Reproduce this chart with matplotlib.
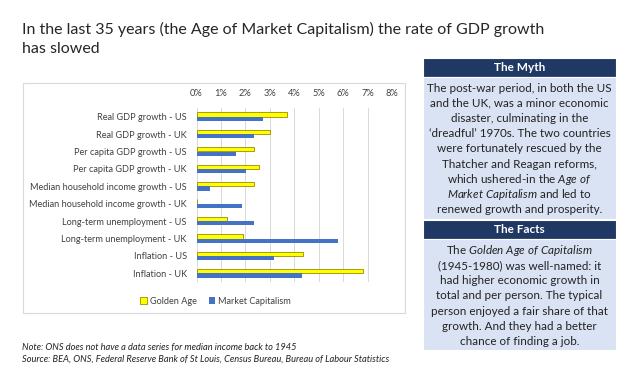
import matplotlib
matplotlib.use("Agg")
import matplotlib.pyplot as plt
from matplotlib.patches import Rectangle, Patch
import numpy as np

plt.rcParams['font.family'] = ['Lato', 'DejaVu Sans']
plt.rcParams['mathtext.fontset'] = 'custom'
plt.rcParams['mathtext.rm'] = 'Lato'
plt.rcParams['mathtext.it'] = 'Lato:italic'

# data (percent)
categories = ["Real GDP growth - US", "Real GDP growth - UK",
              "Per capita GDP growth - US", "Per capita GDP growth - UK",
              "Median household income growth - US", "Median household income growth - UK",
              "Long-term unemployment - US", "Long-term unemployment - UK",
              "Inflation - US", "Inflation - UK"]
golden_age = [3.70, 2.99, 2.34, 2.57, 2.35, 0.0, 1.25, 1.90, 4.35, 6.83]
market_cap = [2.72, 2.35, 1.63, 2.02, 0.56, 1.85, 2.35, 5.79, 3.18, 4.32]
tick_vals = [0, 1, 2, 3, 4, 5, 6, 7, 8]
series_names = ["Golden Age", "Market Capitalism"]

myth_lines = ["The post-war period, in both the US",
              "and the UK, was a minor economic",
              "disaster, culminating in the",
              "\u2018dreadful\u2019 1970s. The two countries",
              "were fortunately rescued by the",
              "Thatcher and Reagan reforms,",
              r"which ushered-in the $\mathit{Age\ of}$",
              r"$\mathit{Market\ Capitalism}$ and led to",
              "renewed growth and prosperity."]
facts_lines = [r"The $\mathit{Golden\ Age\ of\ Capitalism}$",
               "(1945-1980) was well-named: it",
               "had higher economic growth in",
               "total and per person. The typical",
               "person enjoyed a fair share of that",
               "growth. And they had a better",
               "chance of finding a job."]

W, H = 640, 376
fig = plt.figure(figsize=(6.4, 3.76), dpi=100)
fig.patch.set_facecolor("white")


def fx(px):
    return px / W


def fy(py):
    return 1 - py / H


# title
fig.text(fx(22), fy(34), "In the last 35 years (the Age of Market Capitalism) the rate of GDP growth",
         fontsize=11.5, color="#262626", va="baseline", ha="left")
fig.text(fx(22), fy(53), "has slowed", fontsize=11.5, color="#262626", va="baseline", ha="left")

# chart frame
fig.patches.append(Rectangle((fx(23), fy(313)), fx(405) - fx(23), fy(83) - fy(313),
                             transform=fig.transFigure, facecolor="none",
                             edgecolor="#D9D9D9", linewidth=0.8))

ax = fig.add_axes([fx(196.5), fy(282), fx(392) - fx(196.5), fy(108) - fy(282)])
y = np.arange(len(categories))
h = 0.25
ax.barh(y - h / 2, golden_age, height=h, color="#FFFF00", edgecolor="#9C8A00", linewidth=0.6, zorder=3)
ax.barh(y + h / 2, market_cap, height=h, color="#4472C4", zorder=3)
ax.set_ylim(len(categories) - 0.5, -0.5)
ax.set_xlim(0, 8)
ax.set_yticks(y)
ax.set_yticklabels(categories, fontsize=6.6, color="#404040")
ax.set_xticks(tick_vals)
ax.set_xticklabels(["%d%%" % v for v in tick_vals], fontsize=6.7, color="#404040")
ax.xaxis.tick_top()
ax.tick_params(axis="y", length=0, pad=7)
ax.tick_params(axis="x", length=0, pad=7)
ax.grid(axis="x", color="#D9D9D9", linewidth=0.7, zorder=0)
for s in ax.spines.values():
    s.set_visible(False)

handles = [Patch(facecolor="#FFFF00", edgecolor="#9C8A00", linewidth=0.6),
           Patch(facecolor="#4472C4")]
fig.legend(handles, series_names, loc="center", bbox_to_anchor=(fx(215.5), fy(301)),
           ncol=2, frameon=False, fontsize=6.6, handlelength=0.75, handleheight=0.75,
           handletextpad=0.3, columnspacing=1.3, labelcolor="#404040")

# notes
fig.text(fx(22), fy(350), "Note: ONS does not have a data series for median income back to 1945",
         fontsize=6.7, style="italic", va="baseline", color="#222222")
fig.text(fx(22), fy(362), "Source: BEA, ONS, Federal Reserve Bank of St Louis, Census Bureau, Bureau of Labour Statistics",
         fontsize=6.7, style="italic", va="baseline", color="#222222")

# right panel
navy = "#1F3864"
light = "#DAE3F3"
px0, px1 = 423, 616


def box(top, bottom, color):
    fig.patches.append(Rectangle((fx(px0), fy(bottom)), fx(px1) - fx(px0), fy(top) - fy(bottom),
                                 transform=fig.transFigure, facecolor=color, edgecolor="white",
                                 linewidth=0.8))


box(58, 77, navy)
box(77, 219, light)
box(220, 239, navy)
box(239, 350, light)
xc = fx((px0 + px1) / 2)
fig.text(xc, fy(67.5), "The Myth", color="white", fontsize=8.5, fontweight="bold", ha="center", va="center")
fig.text(xc, fy(229.5), "The Facts", color="white", fontsize=8.5, fontweight="bold", ha="center", va="center")
for i, line in enumerate(myth_lines):
    fig.text(xc, fy(88 + i * 15.25), line, fontsize=8.35, color="#222222", ha="center", va="center")
for i, line in enumerate(facts_lines):
    fig.text(xc, fy(250 + i * 15.3), line, fontsize=8.35, color="#222222", ha="center", va="center")

fig.savefig("out.png", dpi=100)
